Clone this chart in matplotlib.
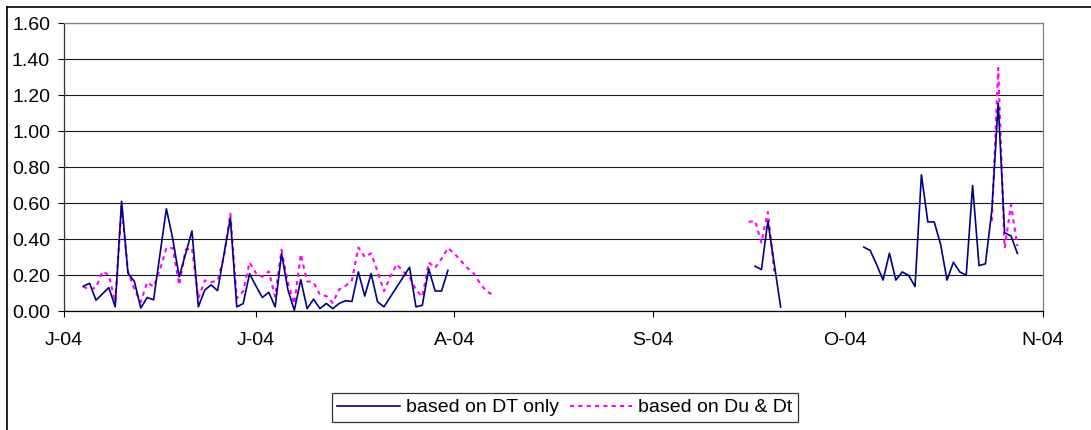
import matplotlib
matplotlib.use("Agg")
import matplotlib.pyplot as plt
from matplotlib.lines import Line2D
import pandas as pd

plt.rcParams['font.family'] = ['Liberation Sans', 'DejaVu Sans']

# ---- data (days counted from 1 June 2004) ----
dt1_days = [3, 4, 5, 7, 8, 9, 10, 11, 12, 13, 14, 16, 17, 18, 20, 21, 22, 23, 24, 26, 27, 28, 29, 30,
            31, 32, 33, 34, 35, 36, 37, 38, 39, 40, 41, 42, 43, 44, 45, 46, 47, 48, 49, 50,
            54, 55, 56, 57, 58, 59, 60]
dt1_vals = [0.137, 0.154, 0.06, 0.13, 0.023, 0.61, 0.21, 0.164, 0.017, 0.075, 0.062, 0.568, 0.40, 0.19,
            0.445, 0.023, 0.117, 0.145, 0.113, 0.517, 0.023, 0.041, 0.207, 0.139,
            0.075, 0.104, 0.023, 0.319, 0.117, 0.004, 0.174, 0.013, 0.066, 0.013, 0.042, 0.013, 0.042,
            0.057, 0.053, 0.217, 0.083, 0.208, 0.051, 0.023,
            0.243, 0.023, 0.032, 0.234, 0.111, 0.111, 0.226]

du1_days = list(range(3, 68))
du1_vals = [0.135, 0.12, 0.13, 0.22, 0.20, 0.05, 0.58, 0.22, 0.12, 0.05, 0.16, 0.135, 0.23, 0.35,
            0.35, 0.145, 0.34, 0.35, 0.07, 0.17, 0.16, 0.17, 0.30, 0.54, 0.07, 0.11, 0.27, 0.21,
            0.19, 0.22, 0.08, 0.34, 0.155, 0.04, 0.315, 0.165, 0.16, 0.09, 0.083, 0.045, 0.12,
            0.14, 0.17, 0.353, 0.30, 0.32, 0.22, 0.11, 0.19, 0.26, 0.22, 0.19, 0.117, 0.08,
            0.27, 0.24, 0.29, 0.35, 0.32, 0.28, 0.24, 0.21, 0.155, 0.11, 0.09]

dt2_days = [108, 109, 110, 112]
dt2_vals = [0.249, 0.23, 0.50, 0.022]
du2_days = [107, 108, 109, 110, 111]
du2_vals = [0.495, 0.50, 0.38, 0.55, 0.22]

dt3_days = list(range(125, 150))
dt3_vals = [0.355, 0.336, 0.258, 0.172, 0.321, 0.172, 0.217, 0.198, 0.136, 0.757, 0.495, 0.495,
            0.37, 0.172, 0.271, 0.217, 0.198, 0.697, 0.252, 0.262, 0.557, 1.155, 0.435, 0.417, 0.32]
du3_days = [145, 146, 147, 148, 149]
du3_vals = [0.50, 1.35, 0.35, 0.59, 0.36]

start = pd.Timestamp('2004-06-01')
month_ticks = ['2004-06-01', '2004-07-01', '2004-08-01', '2004-09-01', '2004-10-01', '2004-11-01']
month_labels = ['J-04', 'J-04', 'A-04', 'S-04', 'O-04', 'N-04']
y_ticks = [0.0, 0.2, 0.4, 0.6, 0.8, 1.0, 1.2, 1.4, 1.6]
series_names = ['based on DT only', 'based on Du & Dt']


def to_dates(days):
    return start + pd.to_timedelta(days, unit='D')


W, H = 1091, 430
fig = plt.figure(figsize=(W / 100, H / 100), dpi=100)
ax = fig.add_axes([64 / W, 1 - 311 / H, (1043 - 64) / W, (311 - 23) / H])

navy = '#000080'
mag = '#FF00FF'
ls_du = (0, (2, 2))

first = True
for d, v in [(dt1_days, dt1_vals), (dt2_days, dt2_vals), (dt3_days, dt3_vals)]:
    ax.plot(to_dates(d), v, color=navy, lw=1.2, zorder=3,
            label=series_names[0] if first else None)
    first = False
first = True
for d, v in [(du1_days, du1_vals), (du2_days, du2_vals), (du3_days, du3_vals)]:
    ax.plot(to_dates(d), v, color=mag, lw=1.5, ls=ls_du, zorder=2,
            label=series_names[1] if first else None)
    first = False

ax.set_xlim(pd.Timestamp(month_ticks[0]), pd.Timestamp(month_ticks[-1]))
ax.set_ylim(0, 1.6)
ax.set_xticks([pd.Timestamp(t) for t in month_ticks])
ax.set_xticklabels(month_labels)
ax.set_yticks(y_ticks)
ax.set_yticklabels([f'{t:.2f}' for t in y_ticks])
ax.tick_params(axis='both', direction='out', length=4, width=0.8, colors='black',
               labelsize=14)
ax.tick_params(axis='x', pad=11)
ax.tick_params(axis='y', pad=6)

ax.yaxis.grid(True, color='#1a1a1a', lw=0.8, zorder=0)
ax.set_axisbelow(True)
ax.spines['left'].set_color('#333333')
ax.spines['bottom'].set_color('black')
ax.spines['right'].set_color('#808080')
ax.spines['top'].set_color('#808080')
for s in ax.spines.values():
    s.set_linewidth(0.9)

leg = fig.legend(loc='center', bbox_to_anchor=(565 / W, 1 - 407.5 / H), ncol=2,
                 fontsize=14, frameon=True, fancybox=False, shadow=False,
                 handlelength=3.2, handletextpad=0.3, columnspacing=0.6,
                 borderpad=0.3, borderaxespad=0)
leg.get_frame().set_edgecolor('black')
leg.get_frame().set_linewidth(0.9)

# chart area border (left and top visible)
fig.add_artist(Line2D([7 / W, 7 / W], [0, 1 - 7 / H], transform=fig.transFigure,
                      color='black', lw=1.2))
fig.add_artist(Line2D([7 / W, 1], [1 - 7 / H, 1 - 7 / H], transform=fig.transFigure,
                      color='black', lw=1.2))

fig.savefig('out.png', dpi=100)
